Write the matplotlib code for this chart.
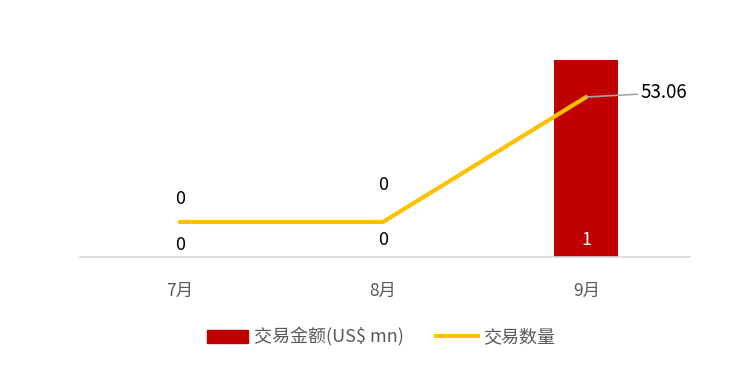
import matplotlib.pyplot as plt
from matplotlib.patches import Patch
from matplotlib.lines import Line2D

plt.rcParams['font.family'] = ['Noto Sans CJK SC', 'DejaVu Sans']

months = ['7月', '8月', '9月']
amount = [0, 0, 1]          # 交易金额(US$ mn) - bars
count = [0, 0, 53.06]       # 交易数量 - line
amount_labels = ['0', '0', '1']
count_labels = ['0', '0', '53.06']

fig = plt.figure(figsize=(7.53, 3.68), dpi=100)
ax = fig.add_axes([80 / 753, 1 - 257 / 368, 610 / 753, 197 / 368])
x = list(range(len(months)))

ax.bar(x, amount, width=0.315, color='#C00000', zorder=2)
ax.set_ylim(0, 1)
ax.set_xlim(-0.49, 2.51)
ax.set_yticks([])
for s in ['top', 'right', 'left']:
    ax.spines[s].set_visible(False)
ax.spines['bottom'].set_color('#D9D9D9')
ax.spines['bottom'].set_linewidth(1.2)
ax.set_xticks(x)
ax.set_xticklabels(months, fontsize=12.5, color='#595959')
ax.tick_params(axis='x', length=0, pad=18)

# bar labels
ax.text(0, 0.015, amount_labels[0], ha='center', va='bottom', fontsize=13, color='black')
ax.text(1, 0.04, amount_labels[1], ha='center', va='bottom', fontsize=13, color='black')
ax.text(2, 0.04, amount_labels[2], ha='center', va='bottom', fontsize=13, color='white')

ax2 = ax.twinx()
ax2.plot(x, count, color='#FFC000', lw=3, solid_capstyle='round', zorder=3)
ax2.set_ylim(-14.86, 68.77)
ax2.set_yticks([])
for s in ax2.spines.values():
    s.set_visible(False)

# line labels
ax2.text(0, count[0] + 5.8, count_labels[0], ha='center', va='bottom', fontsize=13)
ax2.text(1, count[1] + 12.0, count_labels[1], ha='center', va='bottom', fontsize=13)
ax2.annotate(count_labels[2], xy=(2, count[2]), xytext=(2.265, count[2] + 1.8),
             ha='left', va='center', fontsize=13.5,
             arrowprops=dict(arrowstyle='-', color='#A6A6A6', lw=1.2,
                             shrinkA=0, shrinkB=0))

handles = [Patch(color='#C00000'), Line2D([], [], color='#FFC000', lw=3)]
fig.legend(handles, ['交易金额(US$ mn)', '交易数量'], loc='center',
           bbox_to_anchor=(381 / 753, 1 - 337 / 368), ncol=2, frameon=False,
           fontsize=13, labelcolor='#595959', handlelength=2.3,
           handletextpad=0.3, columnspacing=1.8)

fig.savefig('out.png', dpi=100)
